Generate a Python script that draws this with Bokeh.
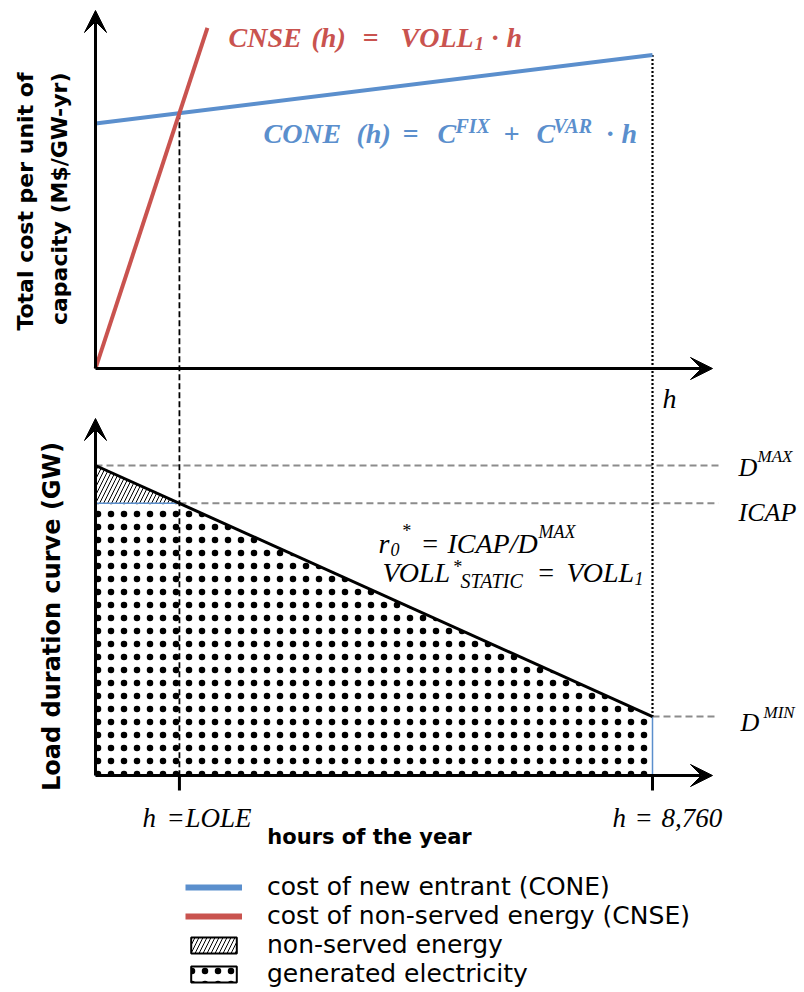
from math import pi
from bokeh.plotting import figure
from bokeh.models import Range1d, Label, Arrow, VeeHead, Legend, LegendItem
from bokeh.embed import file_html
from bokeh.resources import INLINE

# ---------------- data ----------------
H_YEAR = 8760                      # hours in a year
H_LOLE = 1320                      # loss-of-load expectation (hours)
cone_hours = [0, 8760]
cone_cost = [100.0, 128.0]         # C_FIX + C_VAR * h
cnse_hours = [0, 1760]
cnse_cost = [0.0, 139.0]           # VOLL_1 * h
lole_cost = 104.2                  # cost where CONE and CNSE cross
ldc_hours = [0, 8760]
ldc_load = [100.0, 19.0]           # load duration curve (GW)
D_MAX = 100.0
ICAP = 87.8
D_MIN = 19.0
nse_hours = [0, H_LOLE, 0]
nse_load = [D_MAX, ICAP, ICAP]
gen_hours = [0, H_LOLE, 8760, 8760, 0]
gen_load = [ICAP, ICAP, D_MIN, 0.0, 0.0]
legend_labels = ["cost of new entrant (CONE)", "cost of non-served energy (CNSE)",
                 "non-served energy", "generated electricity"]
NAN = [float("nan")] * 2           # placeholder data for legend-only renderers

BLUE = "#5b8fcd"
RED = "#c9534f"
GREY = "#8c8c8c"
SERIF = "Liberation Serif"
SANS = "DejaVu Sans"

# ---------------- layout (page pixels) ----------------
W, H = 800, 988
OFF = 0
X0, XS = 95, 557 / 8760            # px of h=0, px per hour
Y0T, SC = 368, 2.45                # px of cost 0, px per cost unit
Y0B, SL = 775, 3.1                 # px of load 0, px per GW


def ih(px):
    return (px - X0) / XS


def ic(py):
    return (Y0T - py) / SC


def il(py):
    return (Y0B - py) / SL


def load_to_cost(v):
    return ic(Y0B - v * SL)


p = figure(width=W, height=H, output_backend="svg", toolbar_location=None,
           x_range=Range1d(ih(OFF), ih(OFF + W)),
           y_range=Range1d(ic(OFF + H), ic(OFF)),
           x_axis_type=None, y_axis_type=None, min_border=0)
p.extra_y_ranges = {"load": Range1d(il(OFF + H), il(OFF))}
p.outline_line_color = None
p.grid.visible = False

NSE_HATCH = dict(hatch_pattern="/", hatch_color="black", hatch_scale=8, hatch_weight=1)
GEN_HATCH = dict(hatch_pattern=".", hatch_color="black", hatch_scale=13, hatch_weight=0.6)

# ---------------- areas ----------------
p.patch(nse_hours, nse_load, y_range_name="load", fill_color="white",
        line_color=None, **NSE_HATCH)
p.patch(gen_hours, gen_load, y_range_name="load", fill_color="white",
        line_color=BLUE, line_width=1.5, **GEN_HATCH)

# ---------------- reference lines ----------------
p.segment(x0=[0, H_LOLE, 8760], y0=[D_MAX, ICAP, D_MIN],
          x1=[ih(718)] * 3, y1=[D_MAX, ICAP, D_MIN], y_range_name="load",
          line_color=GREY, line_width=2, line_dash="7 4")
p.segment(x0=[H_LOLE], y0=[lole_cost], x1=[H_LOLE], y1=[load_to_cost(0)],
          line_color="black", line_width=1.8, line_dash="6 3")
p.segment(x0=[8760], y0=[cone_cost[-1]], x1=[8760], y1=[load_to_cost(D_MIN)],
          line_color="black", line_width=2.2, line_dash="2 2")
# x ticks
p.segment(x0=[H_LOLE, H_YEAR], y0=[0, 0], x1=[H_LOLE, H_YEAR], y1=[il(Y0B + 15)] * 2,
          y_range_name="load", line_color="black", line_width=3)

# ---------------- curves ----------------
p.line(ldc_hours, ldc_load, y_range_name="load", line_color="black", line_width=3)
p.line(cone_hours, cone_cost, line_color=BLUE, line_width=4)
p.line(cnse_hours, cnse_cost, line_color=RED, line_width=4)


# ---------------- axes as arrows ----------------
def arrow(x0, y0, x1, y1, rng="default"):
    p.add_layout(Arrow(end=VeeHead(size=22, fill_color="black", line_color="black"),
                       x_start=x0, y_start=y0, x_end=x1, y_end=y1,
                       line_color="black", line_width=3, y_range_name=rng))


arrow(0, 0, 0, ic(10))
arrow(0, 0, ih(712), 0)
arrow(0, 0, 0, il(418), "load")
arrow(0, 0, ih(712), 0, "load")


# ---------------- texts ----------------
def txt(t, x, y, size, color="black", style="italic", font=SERIF,
        align="left", baseline="alphabetic", angle=0):
    p.add_layout(Label(x=ih(x), y=ic(y), text=t, text_font=font,
                       text_font_size=f"{size}px", text_font_style=style,
                       text_color=color, text_align=align,
                       text_baseline=baseline, angle=angle))


# CNSE formula
for t, x, y, s in [("CNSE", 228, 37, 28), ("(h)", 311, 37, 28), ("=", 362, 37, 28),
                   ("VOLL", 400, 37, 28), ("1", 474, 43, 19), ("·", 491, 37, 28),
                   ("h", 506, 37, 28)]:
    txt(t, x, y, s, color=RED, style="bold italic")
# CONE formula
for t, x, y, s in [("CONE", 263, 133, 28), ("(h)", 356, 133, 28), ("=", 402, 133, 28),
                   ("C", 437, 133, 28), ("FIX", 455, 125, 20), ("+", 503, 133, 28),
                   ("C", 536, 133, 28), ("VAR", 553, 125, 20), ("·", 606, 133, 28),
                   ("h", 621, 133, 28)]:
    txt(t, x, y, s, color=BLUE, style="bold italic")

# r0* and VOLL* annotations
for t, x, y, s in [("r", 378, 543, 28), ("0", 390, 549, 18), ("*", 401, 530, 18),
                   ("=", 420, 543, 28), ("ICAP/D", 447, 543, 28), ("MAX", 538, 531, 18),
                   ("VOLL", 382, 572, 28), ("*", 452, 566, 18), ("STATIC", 460, 580, 20),
                   ("=", 536, 572, 28), ("VOLL", 566, 572, 28), ("1", 634, 578, 18)]:
    txt(t, x, y, s)

# right side labels
for t, x, y, s in [("D", 738, 467, 26), ("MAX", 757, 456, 17),
                   ("ICAP", 738, 512, 26),
                   ("D", 740, 722, 26), ("MIN", 763, 712, 17),
                   ("h", 662, 398, 28)]:
    txt(t, x, y, s)

# x tick labels
for t, x, y, s in [("h", 142, 817, 27), ("=", 166, 817, 27), ("LOLE", 185, 817, 27),
                   ("h", 612, 817, 27), ("=", 634, 817, 27), ("8,760", 661, 817, 27)]:
    txt(t, x, y, s)

# axis titles
txt("hours of the year", 369, 836, 21, style="bold", font=SANS,
    align="center", baseline="middle")
txt("Total cost per unit of", 25, 72, 22, style="bold", font=SANS,
    align="right", baseline="middle", angle=pi / 2)
txt("capacity (M$/GW-yr)", 59, 72, 22, style="bold", font=SANS,
    align="right", baseline="middle", angle=pi / 2)
txt("Load duration curve (GW)", 51, 616, 24, style="bold", font=SANS,
    align="center", baseline="middle", angle=pi / 2)

# ---------------- legend ----------------
r1 = p.line(NAN, NAN, line_color=BLUE, line_width=6)
r2 = p.line(NAN, NAN, line_color=RED, line_width=6)
r3 = p.patch(NAN, NAN, fill_color="white", line_color="black", line_width=2, **NSE_HATCH)
r4 = p.patch(NAN, NAN, fill_color="white", line_color="black", line_width=2, **GEN_HATCH)
legend = Legend(items=[LegendItem(label=l, renderers=[r]) for l, r in
                       zip(legend_labels, [r1, r2, r3, r4])],
                location=(185, 0), orientation="vertical",
                label_text_font=SANS, label_text_font_size="25px",
                label_text_color="black",
                glyph_width=57, glyph_height=20, label_height=20, spacing=0,
                label_standoff=25, padding=0, margin=0,
                border_line_alpha=0, background_fill_alpha=0)
p.add_layout(legend)

open("out.html", "w").write(file_html(p, INLINE))
